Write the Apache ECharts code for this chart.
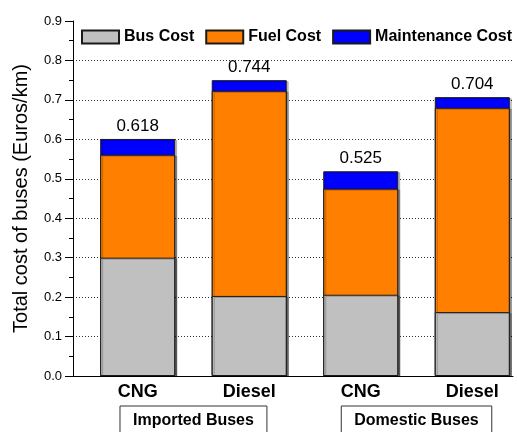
<!DOCTYPE html>
<html>
<head>
<meta charset="utf-8">
<script src="https://cdn.jsdelivr.net/npm/echarts@6/dist/echarts.min.js"></script>
<style>html,body{margin:0;padding:0;background:#fff}#c{width:517px;height:432px}</style>
</head>
<body>
<div id="c"></div>
<script>
var categories = ['CNG', 'Diesel', 'CNG', 'Diesel'];
var groups = ['Imported Buses', 'Domestic Buses'];
var busCost = [0.300, 0.203, 0.206, 0.162];
var fuelCost = [0.261, 0.520, 0.269, 0.518];
var maintCost = [0.040, 0.027, 0.044, 0.027];
var totalLabels = ['0.618', '0.744', '0.525', '0.704'];

var FONT = 'Arial, "Liberation Sans", Helvetica, sans-serif';
var catPos = categories.map(function (c, i) { return i + 1; });
var groupPos = [1.5, 3.5];

// cumulative tops of each stacked segment (drawn back-to-front, overlapping)
var busTop = busCost.slice();
var fuelTop = busCost.map(function (v, i) { return v + fuelCost[i]; });
var maintTop = fuelTop.map(function (v, i) { return v + maintCost[i]; });

function toData(arr) { return arr.map(function (v, i) { return [catPos[i], v]; }); }

var chart = echarts.init(document.getElementById('c'), null, { renderer: 'canvas' });
function item(color) {
  return { color: color, borderColor: '#1a1a1a', borderWidth: 1, shadowColor: 'rgba(0,0,0,0.22)', shadowOffsetX: 2, shadowOffsetY: 1, shadowBlur: 0 };
}
chart.setOption({
  animation: false,
  backgroundColor: '#ffffff',
  textStyle: { fontFamily: FONT },
  grid: { left: 73, right: 4, top: 21, bottom: 56, outerBoundsMode: 'none', containLabel: false },
  legend: {
    left: 81, top: 29, width: 480, padding: 0,
    itemWidth: 37, itemHeight: 13, itemGap: 11,
    icon: 'rect',
    textStyle: { fontFamily: FONT, fontSize: 16, fontWeight: 'bold', color: '#000' },
    data: ['Bus Cost', 'Fuel Cost', 'Maintenance Cost']
  },
  xAxis: [{
    type: 'value', min: 0.42, max: 4.365,
    axisLine: { show: true, lineStyle: { color: '#000', width: 1 } },
    axisTick: { show: false },
    splitLine: { show: false },
    axisLabel: {
      customValues: catPos,
      margin: 7,
      fontFamily: FONT, fontSize: 18, fontWeight: 'bold', color: '#000',
      formatter: function (v) { return categories[Math.round(v) - 1]; }
    }
  }, {
    type: 'value', min: 0.42, max: 4.365, position: 'bottom',
    axisLine: { show: false }, axisTick: { show: false }, splitLine: { show: false },
    axisLabel: {
      customValues: groupPos,
      margin: 30,
      fontFamily: FONT, fontSize: 16, fontWeight: 'bold', color: '#000',
      borderColor: '#333', borderWidth: 1, padding: [7, 13, 14, 13],
      formatter: function (v) { return groups[Math.round((v - 1.5) / 2)]; }
    }
  }],
  yAxis: {
    type: 'value', min: 0, max: 0.9, interval: 0.1,
    name: 'Total cost of buses (Euros/km)',
    nameLocation: 'middle', nameGap: 42,
    nameTextStyle: { fontFamily: FONT, fontSize: 20, color: '#000' },
    axisLine: { show: true, lineStyle: { color: '#000', width: 1 } },
    axisTick: { show: true, length: 8, lineStyle: { color: '#000' } },
    minorTick: { show: true, splitNumber: 2, length: 4, lineStyle: { color: '#000' } },
    splitLine: { show: true, showMinLine: false, showMaxLine: false, lineStyle: { color: '#333', type: [1, 2], width: 1 } },
    axisLabel: {
      margin: 11, fontFamily: FONT, fontSize: 13, color: '#000',
      formatter: function (v) { return v.toFixed(1); }
    }
  },
  series: [{
    name: 'Maintenance Cost', type: 'bar', barWidth: 75, barGap: '-100%', xAxisIndex: 0, z: 2,
    itemStyle: item('#0000ff'),
    label: {
      show: true, position: 'top', distance: 4,
      fontFamily: FONT, fontSize: 17, color: '#000',
      formatter: function (p) { return totalLabels[p.dataIndex]; }
    },
    data: toData(maintTop)
  }, {
    name: 'Fuel Cost', type: 'bar', barWidth: 75, barGap: '-100%', xAxisIndex: 0, z: 3,
    itemStyle: item('#ff8000'),
    data: toData(fuelTop)
  }, {
    name: 'Bus Cost', type: 'bar', barWidth: 75, barGap: '-100%', xAxisIndex: 0, z: 4,
    itemStyle: item('#c0c0c0'),
    data: toData(busTop)
  }]
});
</script>
</body>
</html>
